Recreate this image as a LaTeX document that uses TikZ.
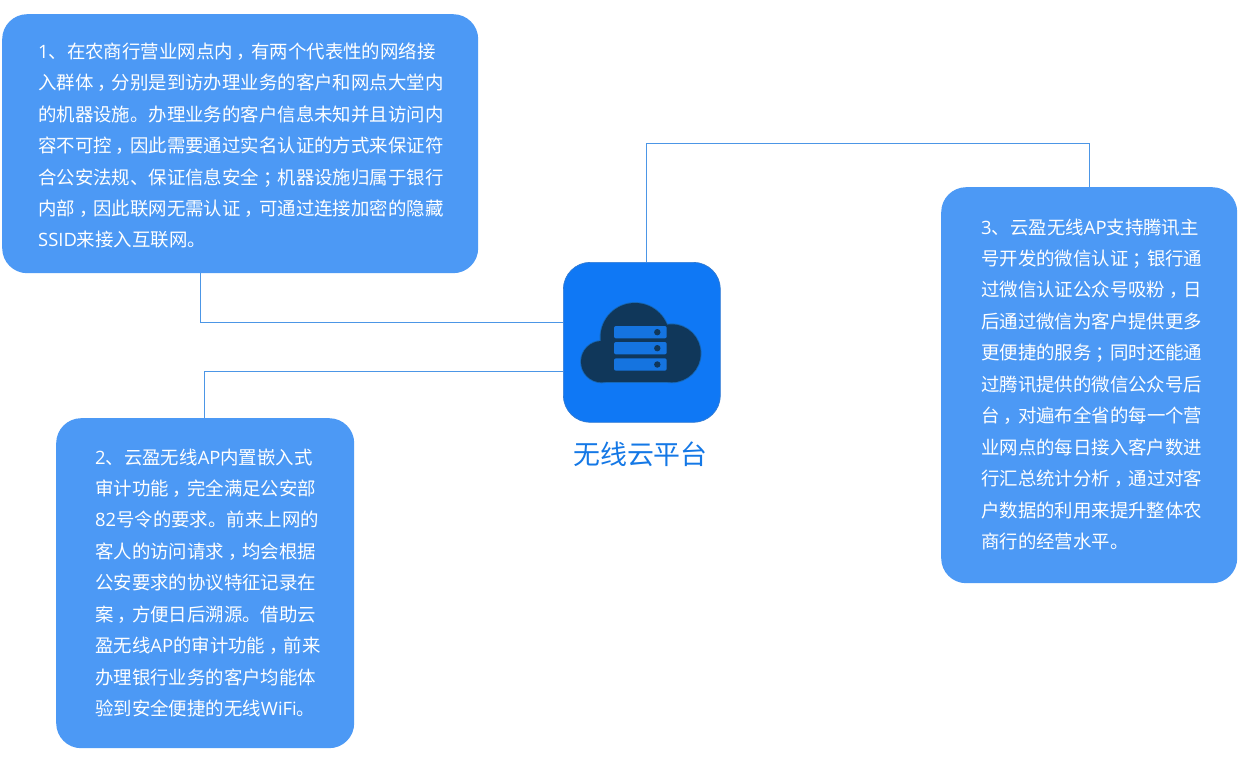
\documentclass[tikz,border=0pt]{standalone}
\usepackage{fontspec}
\setmainfont{Noto Sans CJK SC}
\newfontfamily\latf{Open Sans}
\definecolor{boxblue}{HTML}{4C99F5}
\definecolor{iconblue}{HTML}{0F78F5}
\definecolor{linkblue}{HTML}{4C96E6}
\definecolor{clouddark}{HTML}{10375A}
\definecolor{cloudedge}{HTML}{1668B8}
\definecolor{barblue}{HTML}{1574E0}
\definecolor{labelblue}{HTML}{1478E6}
\tikzset{x=1pt,y=-1pt,
  infobox/.style={fill=boxblue,rounded corners=25pt,inner sep=0pt,anchor=north west},
  infotext/.style={text=white,inner sep=0pt,anchor=base west,align=left,font=\fontsize{18.42pt}{31.45pt}\selectfont},
  link/.style={draw=linkblue,line width=1pt},
  serverbar/.style={fill=barblue,draw=none,rounded corners=2pt},
  serverdot/.style={fill=clouddark,draw=none}}
\newcommand{\cm}{\kern4pt，\kern-4pt}
\newcommand{\sm}{\kern4pt；\kern-4pt}
\newcommand{\lat}[1]{{\latf #1}}
\begin{document}
\begin{tikzpicture}
\useasboundingbox (0,0) rectangle (1253,762);
\fill[white] (0,0) rectangle (1253,762);
% boxes
\node[infobox,minimum width=476pt,minimum height=259pt] (box1) at (2,14) {};
\node[infobox,minimum width=298pt,minimum height=330pt] (box2) at (56,418) {};
\node[infobox,minimum width=296pt,minimum height=396pt] (box3) at (941,187) {};
% icon
\node[fill=iconblue,draw=iconblue!70!gray,line width=.7pt,rounded corners=27pt,inner sep=0pt,anchor=north west,minimum width=157pt,minimum height=160pt] (icon) at (563,262) {};
% connectors
\coordinate (k1) at (200.5,322);
\coordinate (k2) at (204,371.5);
\coordinate (k3) at (646.5,143.5);
\coordinate (k4) at (1089.5,143.5);
\draw[link] (box1.south -| k1) -- (k1) -- (icon.west |- k1);
\draw[link] (icon.west |- k2) -- (k2) -- (box2.north -| k2);
\draw[link] (icon.north -| k3) -- (k3) -- (k4) -- (box3.north -| k4);
% cloud
\foreach \c/\e in {cloudedge/.9,clouddark/0}{
  \fill[\c] (601.7,361.7) circle[radius=20.7+\e];
  \fill[\c] (635,337.5) circle[radius=34.5+\e];
  \fill[\c] (671.7,353.3) circle[radius=29+\e];
  \fill[\c] (601.7,345) rectangle (671.7,382.4+\e);
}
\foreach \y in {326,342,358.3}{
  \fill[serverbar] (614,\y) rectangle ++(52.7,12.4);
  \fill[serverdot] (657.3,\y+6.2) circle[radius=3.2];
}
\node[text=labelblue,inner sep=0pt,anchor=base,font=\fontsize{26.9pt}{30pt}\selectfont] (lab) at (640.5,464) {无线云平台};
% texts
\node[infotext] (t1) at (38,247) {\lat{1}、在农商行营业网点内\cm 有两个代表性的网络接\\入群体\cm 分别是到访办理业务的客户和网点大堂内\\的机器设施。办理业务的客户信息未知并且访问内\\容不可控\cm 因此需要通过实名认证的方式来保证符\\合公安法规、保证信息安全\sm 机器设施归属于银行\\内部\cm 因此联网无需认证\cm 可通过连接加密的隐藏\\\lat{SSID}来接入互联网。};
\node[infotext] (t2) at (95,715.6) {\lat{2}、云盈无线\lat{AP}内置嵌入式\\审计功能\cm 完全满足公安部\\\lat{82}号令的要求。前来上网的\\客人的访问请求\cm 均会根据\\公安要求的协议特征记录在\\案\cm 方便日后溯源。借助云\\盈无线\lat{AP}的审计功能\cm 前来\\办理银行业务的客户均能体\\验到安全便捷的无线\lat{WiFi}。};
\node[infotext] (t3) at (981,548.5) {\lat{3}、云盈无线\lat{AP}支持腾讯主\\号开发的微信认证\sm 银行通\\过微信认证公众号吸粉\cm 日\\后通过微信为客户提供更多\\更便捷的服务\sm 同时还能通\\过腾讯提供的微信公众号后\\台\cm 对遍布全省的每一个营\\业网点的每日接入客户数进\\行汇总统计分析\cm 通过对客\\户数据的利用来提升整体农\\商行的经营水平。};
\end{tikzpicture}
\end{document}
